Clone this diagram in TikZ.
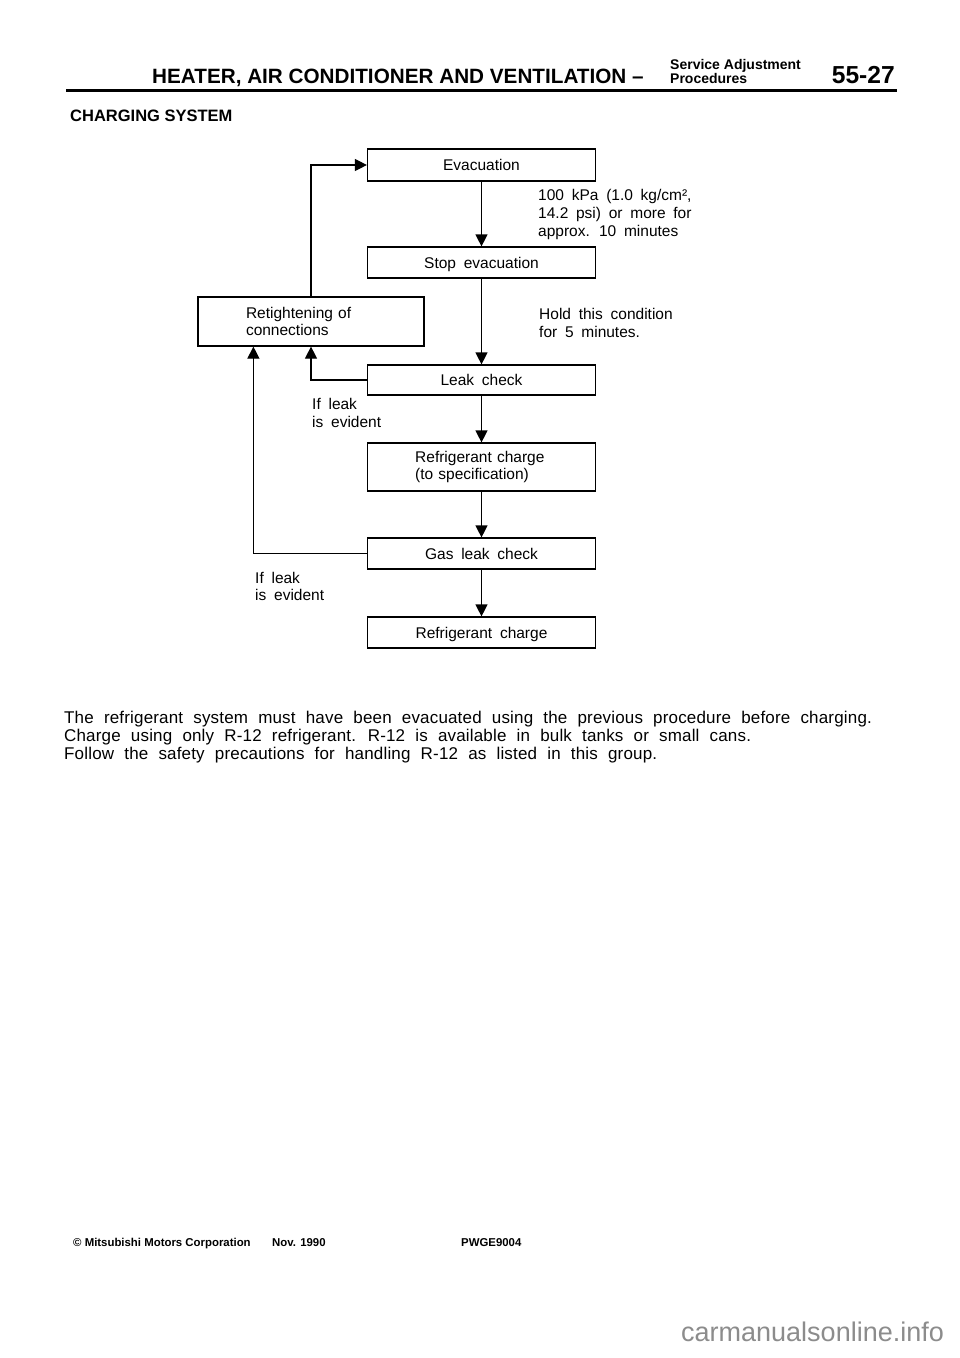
\documentclass[tikz,border=0pt]{standalone}
\usepackage{fontspec}
\setmainfont{Liberation Sans}
\newfontfamily\bodyfam[LetterSpace=1.0]{Liberation Sans}
\usetikzlibrary{arrows.meta}
\newcommand\flowfont{\fontsize{15.5pt}{17.5pt}\selectfont\spaceskip=0.5em plus 0.1em\relax}
\newcommand\bodyfont{\bodyfam\fontsize{17pt}{18pt}\selectfont\spaceskip=0.6em plus 0.1em\relax}
\newcommand\footfont{\fontsize{11.4pt}{12pt}\selectfont\bfseries}
\begin{document}
\begin{tikzpicture}[x=1pt,y=-1pt,
  box/.style={draw, line width=1.2pt, rectangle, inner sep=0pt, minimum width=228pt, minimum height=31pt, font=\flowfont, text height=11pt, text depth=0pt},
  mbox/.style={draw, line width=1.2pt, rectangle, inner ysep=0pt, font=\flowfont, align=left},
  lbl/.style={anchor=base west, inner sep=0pt, font=\flowfont},
  bodyline/.style={anchor=base west, inner sep=0pt, font=\bodyfont},
  arr/.style={-{Triangle[length=12pt,width=12pt]}, line width=1.2pt}]
\useasboundingbox[fill=white] (0,0) rectangle (960,1358);

% header
\node[anchor=base west, inner sep=0pt, font=\fontsize{20.7pt}{22pt}\selectfont\bfseries] (title) at (152,83.3) {HEATER, AIR CONDITIONER AND VENTILATION –};
\node[anchor=base west, inner sep=0pt, font=\fontsize{14pt}{14pt}\selectfont\bfseries] (sa) at (670,69.3) {Service Adjustment};
\node[anchor=base west, inner sep=0pt, font=\fontsize{14pt}{14pt}\selectfont\bfseries] (proc) at (670,83.3) {Procedures};
\node[anchor=base east, inner sep=0pt, font=\fontsize{24.6pt}{25pt}\selectfont\bfseries] (pg) at (895,83.3) {55-27};
\coordinate (ruleL) at (66,90.7);
\coordinate (ruleR) at (897,90.7);
\draw[line width=2.7pt] (ruleL) -- (ruleR);
\node[anchor=base west, inner sep=0pt, font=\fontsize{16.5pt}{17pt}\selectfont\bfseries] (heading) at (70,121.7) {CHARGING SYSTEM};

% flow boxes
\node[box, minimum height=32pt] (evac) at (481.5,165) {Evacuation};
\node[box] (stop) at (481.5,262.5) {Stop evacuation};
\node[box, minimum height=30pt] (leak) at (481.5,380) {Leak check};
\node[mbox, minimum height=48pt, inner xsep=47.7pt, text width=132.6pt] (refspec) at (481.5,467) {Refrigerant charge\\(to specification)};
\node[box] (gas) at (481.5,553.5) {Gas leak check};
\node[box] (ref) at (481.5,632.5) {Refrigerant charge};
\node[mbox, minimum height=49pt, inner xsep=48pt, text width=130pt] (retight) at (311,321.5) {Retightening of\\connections};

% connectors
\draw[arr] (evac.south) -- (stop.north);
\draw[arr] (stop.south) -- (leak.north);
\draw[arr] (leak.south) -- (refspec.north);
\draw[arr] (refspec.south) -- (gas.north);
\draw[arr] (gas.south) -- (ref.north);
\draw[arr] (leak.west) -| (retight.south);
\draw[arr] (gas.west) -| ([xshift=56pt]retight.south west);
\draw[arr] (retight.north) |- (evac.west);

% labels
\node[lbl] (kpa1) at (538,200) {100 kPa (1.0 kg/cm²,};
\node[lbl] (kpa2) at (538,218) {14.2 psi) or more for};
\node[lbl] (kpa3) at (538,236) {approx. 10 minutes};
\node[lbl] (hold1) at (539,319) {Hold this condition};
\node[lbl] (hold2) at (539,337) {for 5 minutes.};
\node[lbl] (ifa1) at (312,409) {If leak};
\node[lbl] (ifa2) at (312,427) {is evident};
\node[lbl] (ifb1) at (255,583) {If leak};
\node[lbl] (ifb2) at (255,600.5) {is evident};

% body
\node[bodyline] (b1) at (64,723) {The refrigerant system must have been evacuated using the previous procedure before charging.};
\node[bodyline] (b2) at (64,741) {Charge using only R-12 refrigerant. R-12 is available in bulk tanks or small cans.};
\node[bodyline] (b3) at (64,759) {Follow the safety precautions for handling R-12 as listed in this group.};

% footer
\node[anchor=base west, inner sep=0pt, font=\footfont] (copy) at (73,1246) {© Mitsubishi Motors Corporation};
\node[anchor=base west, inner sep=0pt, font=\footfont] (date) at (272,1246) {Nov. 1990};
\node[anchor=base west, inner sep=0pt, font=\footfont] (code) at (461,1246) {PWGE9004};
\node[anchor=base west, inner sep=0pt, text=black!45, font=\fontsize{27pt}{28pt}\selectfont] (wm) at (681,1341) {carmanualsonline.info};
\end{tikzpicture}
\end{document}
